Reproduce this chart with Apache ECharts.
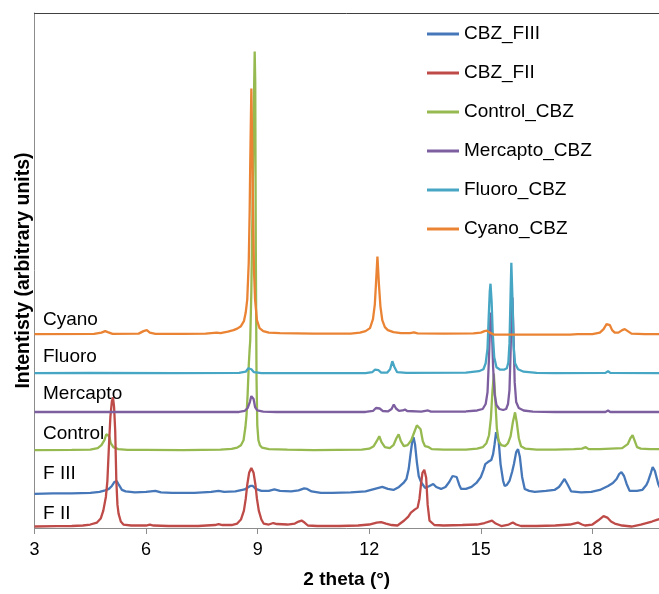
<!DOCTYPE html>
<html>
<head>
<meta charset="utf-8">
<script src="https://cdn.jsdelivr.net/npm/echarts@6/dist/echarts.min.js"></script>
<style>
  html, body { margin: 0; padding: 0; background: #fff; }
  #chart { width: 659px; height: 594px; }
</style>
</head>
<body>
<div id="chart"></div>
<script>
// Powder X-ray diffraction patterns of carbamazepine samples, stacked vertically.
// Each pattern is a list of [2 theta (deg), intensity above its own baseline].

const FONT = "'Liberation Sans', Arial, sans-serif";

const seriesNames = ['CBZ_FIII', 'CBZ_FII', 'Control_CBZ', 'Mercapto_CBZ', 'Fluoro_CBZ', 'Cyano_CBZ'];
const seriesColors = ['#4677B8', '#BE4B48', '#96B950', '#7D5FA0', '#46A6C4', '#EA8434'];
// vertical offset of each pattern in the stack (arbitrary units)
const baselines = [34.3, 1.5, 78.3, 116.7, 155.7, 195];
const sideLabels = ['F III', 'F II', 'Control', 'Mercapto', 'Fluoro', 'Cyano'];

const xTicks = [3, 6, 9, 12, 15, 18];
const xMax = 19.79;

const fIII = [[3,0],[3.5,0.5],[4.0,0.5],[4.5,1],[4.75,2],[4.9,3.5],[5.0,5],[5.08,8],[5.15,12],[5.21,13],[5.27,9],[5.35,4],[5.45,2.5],[5.7,1.5],[6.0,2],[6.25,3],[6.4,1.5],[6.7,1],[7.3,1],[7.75,2],[7.95,3],[8.1,2],[8.4,2.5],[8.65,4.5],[8.8,8],[8.87,8],[8.95,5],[9.1,3],[9.3,3],[9.45,4.5],[9.6,3],[9.9,2.5],[10.1,3.5],[10.25,5.5],[10.33,5],[10.45,2.5],[10.7,1],[11.0,1],[11.5,1.5],[11.9,2.5],[12.15,5],[12.35,7],[12.5,5],[12.65,4],[12.8,7],[12.92,11],[13.0,15],[13.06,25],[13.11,40],[13.16,54],[13.19,57],[13.23,50],[13.28,32],[13.33,18],[13.39,12],[13.5,6],[13.62,8],[13.72,10],[13.8,7],[13.93,5],[14.05,7],[14.15,12],[14.24,18],[14.29,20],[14.35,17],[14.42,9],[14.47,5],[14.6,5],[14.75,7],[14.88,11],[15.0,17],[15.07,24],[15.12,30],[15.19,32],[15.28,34],[15.33,40],[15.37,50],[15.41,62],[15.44,63],[15.48,53],[15.53,30],[15.6,13],[15.64,8],[15.7,9],[15.77,13],[15.84,22],[15.89,30],[15.95,42],[16.0,45],[16.05,37],[16.11,17],[16.18,5],[16.3,3],[16.45,2],[16.75,3],[16.98,4],[17.1,7],[17.16,10],[17.25,15],[17.34,9],[17.43,2.5],[17.7,1.5],[17.97,2],[18.2,4],[18.42,8],[18.55,11],[18.65,15],[18.72,20],[18.78,22],[18.85,18],[18.92,10],[19.0,3],[19.2,3],[19.34,4],[19.45,9],[19.5,13],[19.57,21],[19.62,27],[19.68,23],[19.77,10],[19.83,5],[19.95,4]];

const fII = [[3,0],[3.6,0.3],[4.0,0.5],[4.3,1],[4.5,2],[4.68,4],[4.78,8],[4.85,16],[4.92,30],[4.96,46],[5.0,80],[5.04,110],[5.08,126],[5.11,130],[5.14,120],[5.17,96],[5.2,46],[5.23,22],[5.26,13],[5.32,5],[5.39,2],[5.6,1],[6.0,1],[6.1,2],[6.2,1],[6.6,0.5],[7.4,0.5],[7.85,1.5],[7.95,2.5],[8.05,1.5],[8.3,1.5],[8.45,3],[8.55,7],[8.63,16],[8.68,28],[8.72,42],[8.77,54],[8.83,59],[8.89,54],[8.94,42],[8.98,28],[9.03,16],[9.1,7],[9.16,3],[9.3,2],[9.42,3.5],[9.52,2.5],[9.8,2],[10.0,3],[10.1,5],[10.18,6],[10.26,4],[10.35,1],[10.6,0.5],[11.2,0.5],[11.7,1],[12.0,2],[12.2,4],[12.32,4.5],[12.45,3],[12.6,1.5],[12.76,1],[12.94,6],[13.05,10],[13.12,14],[13.22,17],[13.3,19],[13.35,28],[13.39,42],[13.43,54],[13.48,57],[13.53,49],[13.57,22],[13.62,6],[13.75,1.5],[14.0,1],[14.5,1.5],[14.9,2],[15.1,3.5],[15.3,6],[15.4,3],[15.55,0.5],[15.75,2],[15.86,4],[15.95,2],[16.08,0.5],[16.5,0.5],[17.0,1],[17.4,2],[17.61,4],[17.72,2],[17.8,1],[18.0,2],[18.15,6],[18.3,10.5],[18.4,9],[18.5,5],[18.6,3],[18.8,1],[19.05,0],[19.3,2],[19.45,3.5],[19.6,5],[19.75,7],[19.95,8.5]];

const control = [[3,0],[4.0,0.3],[4.5,0.5],[4.7,2],[4.8,5],[4.88,10],[4.93,16],[4.97,18],[5.01,14],[5.05,7],[5.12,3],[5.25,1],[5.5,0.3],[6.0,0.3],[7.0,0],[8.0,0.5],[8.3,1.2],[8.45,2.5],[8.55,5],[8.62,10],[8.67,23],[8.7,35],[8.73,56],[8.76,85],[8.785,102],[8.8,110],[8.83,160],[8.86,240],[8.89,330],[8.92,401],[8.935,370],[8.95,200],[8.97,70],[8.99,25],[9.02,10],[9.06,5],[9.12,2.5],[9.3,1],[9.8,0.5],[10.5,0],[11.8,0.5],[12.0,1.5],[12.12,4],[12.2,9],[12.27,14],[12.33,8],[12.42,3],[12.55,2],[12.65,5],[12.73,12],[12.79,16],[12.85,9],[12.93,4],[13.03,5],[13.13,10],[13.22,19],[13.28,25],[13.33,27],[13.38,21],[13.44,9],[13.5,4],[13.6,3],[13.68,1],[14.0,0.5],[14.6,0.5],[14.9,1.5],[15.05,3],[15.15,7],[15.22,15],[15.27,32],[15.31,58],[15.35,77],[15.39,50],[15.43,22],[15.48,9],[15.55,5],[15.65,4],[15.73,7],[15.8,14],[15.86,28],[15.92,38],[15.97,27],[16.02,12],[16.08,4],[16.2,1.5],[16.5,0.5],[17.0,0.5],[17.5,1],[17.72,1.5],[17.82,3],[17.9,1],[18.2,1],[18.5,1.5],[18.8,2],[18.95,6],[19.02,12],[19.08,15],[19.13,10],[19.2,3],[19.3,1.5],[19.55,1],[19.95,1]];

const mercapto = [[3,0],[6.0,0],[8.5,0],[8.65,1],[8.73,4],[8.79,10],[8.83,16],[8.86,18],[8.89,13],[8.93,5],[8.99,1.5],[9.15,0.3],[9.5,0],[11.9,0],[12.1,1],[12.18,4],[12.23,6],[12.28,3.5],[12.36,1],[12.5,0.5],[12.6,3],[12.66,7.5],[12.72,3.5],[12.8,1],[12.9,1.5],[12.96,2.5],[13.02,1],[13.4,0.3],[13.58,1.5],[13.66,0.3],[14.6,0.5],[14.9,1.5],[15.05,3],[15.13,8],[15.18,20],[15.22,55],[15.25,90],[15.27,100],[15.3,80],[15.33,45],[15.37,18],[15.42,7],[15.5,3],[15.6,2],[15.68,3],[15.73,8],[15.77,22],[15.8,60],[15.83,105],[15.85,115],[15.88,75],[15.91,30],[15.95,10],[16.02,4],[16.15,1.5],[16.4,0.3],[17.0,0],[18.35,0],[18.42,1.5],[18.48,0],[19.95,0]];

const fluoro = [[3,0],[4.5,0.3],[6.8,0],[8.5,0.3],[8.68,1.5],[8.75,5],[8.79,7],[8.83,4],[8.9,1],[9.1,0],[11.9,0],[12.08,1],[12.15,3.5],[12.2,5],[12.25,3],[12.32,0.5],[12.48,0.5],[12.56,4],[12.62,12],[12.64,13],[12.68,6],[12.75,1],[13.0,0.3],[14.6,0.5],[14.95,2],[15.07,4],[15.13,10],[15.18,25],[15.21,55],[15.24,82],[15.26,90],[15.29,72],[15.32,40],[15.36,16],[15.42,6],[15.52,3.5],[15.62,3.5],[15.7,5],[15.74,11],[15.77,30],[15.8,80],[15.82,111],[15.85,75],[15.88,28],[15.92,10],[16.0,4],[16.15,1.5],[16.5,0.3],[17.0,0],[18.35,0.3],[18.42,2],[18.48,0.3],[19.95,0]];

const cyano = [[3,0],[4.6,0.3],[4.8,1.5],[4.9,3],[4.97,2],[5.1,0.3],[5.8,0.5],[5.93,3],[6.02,4],[6.1,1.5],[6.25,0.3],[7.0,0.3],[7.6,0.5],[7.9,1.5],[8.0,1],[8.2,2.5],[8.35,4],[8.45,5.5],[8.55,8],[8.63,13],[8.68,22],[8.72,35],[8.76,72],[8.785,124],[8.8,171],[8.83,247],[8.86,171],[8.875,124],[8.9,65],[8.93,35],[8.98,14],[9.05,6],[9.15,3],[9.3,1.5],[9.6,1],[10.5,0.5],[11.5,0.5],[11.75,1.5],[11.9,3],[12.02,6],[12.1,15],[12.15,30],[12.18,50],[12.22,78],[12.26,50],[12.3,28],[12.35,14],[12.42,7],[12.5,4],[12.65,2],[12.85,1],[13.1,1],[13.2,1.8],[13.3,0.8],[14.0,0.5],[14.8,0.7],[15.0,1.5],[15.1,3],[15.16,3.5],[15.24,1.5],[15.35,-0.5],[16.0,-0.5],[17.4,-0.5],[17.6,0],[18.0,0],[18.2,1.5],[18.3,5],[18.38,10],[18.42,12],[18.47,9],[18.53,4],[18.6,1.5],[18.7,1.5],[18.8,4],[18.87,5],[18.95,3],[19.05,0.5],[19.4,0],[19.95,0]];

const patterns = [fIII, fII, control, mercapto, fluoro, cyano];
// painting order: later entries are drawn on top
const drawOrder = [0, 2, 1, 3, 4, 5];

const chart = echarts.init(document.getElementById('chart'), null, { renderer: 'canvas' });

const series = drawOrder.map(function (i) {
  const off = baselines[i];
  return {
    name: seriesNames[i],
    type: 'line',
    xAxisIndex: 0,
    yAxisIndex: 0,
    showSymbol: false,
    symbol: 'none',
    smooth: false,
    animation: false,
    color: seriesColors[i],
    lineStyle: { color: seriesColors[i], width: 2.3 },
    data: patterns[i].map(function (p) { return [p[0], p[1] + off]; })
  };
});

const labelY = [473.5, 513.5, 433.3, 393.7, 356.3, 319.3];

const option = {
  backgroundColor: '#ffffff',
  animation: false,
  grid: { left: 34.5, right: 0, top: 13, bottom: 63, containLabel: false },
  legend: {
    data: seriesNames,
    orient: 'vertical',
    left: 427,
    top: 24,
    padding: 0,
    itemWidth: 32,
    itemHeight: 3,
    itemGap: 19,
    icon: 'rect',
    selectedMode: false,
    textStyle: { fontFamily: FONT, fontSize: 19, color: '#000', lineHeight: 20 }
  },
  xAxis: [{
    type: 'value',
    min: xTicks[0],
    max: xMax,
    interval: 3,
    name: '2 theta (°)',
    nameLocation: 'middle',
    nameGap: 42,
    nameTextStyle: { fontFamily: FONT, fontSize: 19, fontWeight: 'bold', color: '#000' },
    axisLine: { show: true, lineStyle: { color: '#8c8c8c', width: 1 } },
    axisTick: { show: true, inside: false, length: 6, lineStyle: { color: '#8c8c8c' } },
    axisLabel: {
      fontFamily: FONT, fontSize: 18, color: '#000', margin: 13,
      showMaxLabel: false,
      formatter: function (v) { return xTicks.indexOf(v) >= 0 ? String(v) : ''; }
    },
    splitLine: { show: false }
  }, {
    type: 'value',
    position: 'top',
    min: xTicks[0],
    max: xMax,
    axisLine: { show: true, onZero: false, lineStyle: { color: '#404040', width: 1 } },
    axisTick: { show: false },
    axisLabel: { show: false },
    splitLine: { show: false }
  }],
  yAxis: {
    type: 'value',
    min: 0,
    max: 518,
    name: 'Intentisty (arbitrary units)',
    nameLocation: 'middle',
    nameGap: 1,
    nameTextStyle: { fontFamily: FONT, fontSize: 19.5, fontWeight: 'bold', color: '#000' },
    axisLine: { show: true, lineStyle: { color: '#8c8c8c', width: 1 } },
    axisTick: { show: false },
    axisLabel: { show: false },
    splitLine: { show: false }
  },
  graphic: sideLabels.map(function (t, i) {
    return {
      type: 'text',
      x: 43,
      y: labelY[i],
      z: 100,
      style: { text: t, font: '19px ' + FONT, fill: '#000', verticalAlign: 'middle', align: 'left' }
    };
  }),
  series: series
};

chart.setOption(option);
</script>
</body>
</html>
